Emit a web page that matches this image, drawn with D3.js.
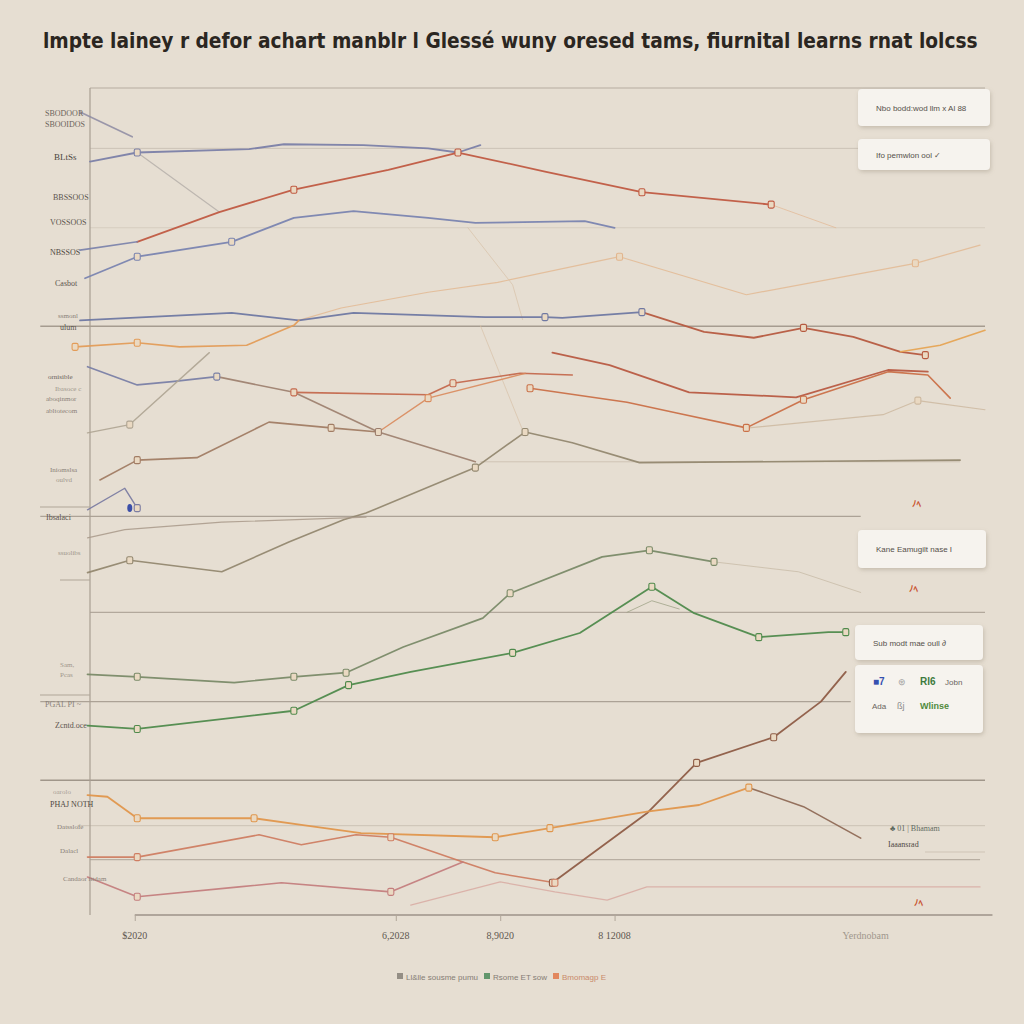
<!DOCTYPE html>
<html><head><meta charset="utf-8">
<script src="https://cdn.jsdelivr.net/npm/d3@7"></script>
<style>
html,body{margin:0;padding:0;background:#e6ded2;}
svg{display:block;}
</style></head>
<body>
<svg id="chart" width="1024" height="1024"></svg>
<script>
// ---------------- DATA (month, value) ----------------
const slateTop   = [[-0.4,97.1],[1.7,94.1]];
const blueTop    = [[0.0,91.1],[1.9,92.2],[6.4,92.6],[7.8,93.2],[11.0,93.1],[13.6,92.7],[14.8,92.2],[15.7,93.1]];
const grayDrop   = [[1.9,92.2],[5.2,85.0]];
const redTop     = [[1.9,81.4],[5.2,85.0],[8.2,87.7],[12.0,90.1],[14.8,92.2],[18.3,89.9],[22.2,87.4],[27.4,85.9]];
const redTopTail = [[27.4,85.9],[30.0,83.1]];
const blueJoin   = [[-0.4,80.4],[1.9,81.4]];
const blueMid    = [[-0.2,77.0],[1.9,79.6],[5.7,81.4],[8.2,84.3],[10.6,85.1],[13.6,84.3],[15.5,83.7],[19.9,83.9],[21.1,83.1]];
const orangeFaint= [[8.4,71.9],[10.1,73.4],[13.6,75.3],[16.4,76.5],[21.3,79.6],[26.4,75.0],[33.2,78.8],[35.8,81.0]];
const blueLow    = [[-0.4,71.9],[5.7,72.8],[8.4,71.9],[10.6,72.8],[15.9,72.3],[18.3,72.3],[19.0,72.2],[22.2,72.9]];
const redRight   = [[22.2,72.9],[24.7,70.5],[26.7,69.8],[28.7,71.0],[30.7,69.9],[32.6,68.1],[33.6,67.7]];
const orangeEnd  = [[32.6,68.1],[34.2,68.9],[36.0,70.7]];
const orangeLeft = [[-0.6,68.7],[1.9,69.2],[3.6,68.7],[6.3,68.9],[8.2,71.3],[8.4,71.9]];
const slateLeft  = [[-0.1,66.3],[1.9,64.1],[3.3,64.5],[5.1,65.1]];
const brownFall  = [[5.1,65.1],[8.2,63.2],[11.6,58.4],[15.5,54.8]];
const redFlat    = [[8.2,63.2],[13.6,62.9],[14.6,64.3],[17.3,65.5],[19.4,65.3]];
const orangeRise = [[11.6,58.4],[13.6,62.5],[17.5,65.5]];
const grayRise   = [[-0.1,58.3],[1.6,59.3],[4.8,68.0]];
const brownLow   = [[0.4,52.6],[1.9,55.0],[4.3,55.3],[7.2,59.6],[9.7,58.9],[11.6,58.4]];
const oliveLong  = [[-0.1,41.4],[1.6,42.9],[5.3,41.5],[8.0,45.1],[10.2,47.8],[11.1,48.6],[15.5,54.1],[17.5,58.4],[19.4,57.1],[22.1,54.7],[35.0,55.0]];
const orangeMid  = [[17.7,63.7],[21.6,62.0],[23.6,60.7],[26.4,58.9],[28.7,62.3],[32.1,65.7],[33.7,65.3],[34.6,62.5]];
const redMid     = [[18.6,68.0],[20.9,66.5],[24.1,63.2],[28.4,62.6],[32.1,65.9],[33.7,65.7]];
const grayRight  = [[26.5,58.9],[31.9,60.5],[33.3,62.2],[36.0,61.1]];
const slateSmall = [[-0.1,49.0],[1.4,51.6],[1.9,49.2]];
const grayBase   = [[-0.1,45.6],[1.4,46.6],[5.3,47.5],[11.1,48.1]];
const greenUpper = [[-0.1,29.1],[1.9,28.8],[5.8,28.1],[8.2,28.8],[10.3,29.3],[12.6,32.4],[15.8,35.9],[16.9,38.9],[20.6,43.3],[22.5,44.1],[25.1,42.7]];
const greenUpperTail = [[25.1,42.7],[28.5,41.5],[31.0,39.0]];
const greenLower = [[-0.1,22.9],[1.9,22.5],[8.2,24.7],[10.4,27.8],[12.9,29.4],[17.0,31.7],[19.7,34.1],[22.6,39.7],[24.3,36.5],[26.9,33.6],[29.7,34.2],[30.4,34.2]];
const greenPeak  = [[21.6,36.6],[22.6,38.0],[23.7,37.0]];
const brownRise  = [[18.6,3.9],[22.4,12.3],[24.4,18.4],[27.5,21.5],[29.4,25.8],[30.4,29.4]];
const orangeBottom = [[-0.1,14.5],[0.7,14.3],[1.9,11.7],[6.6,11.7],[8.5,10.9],[10.9,9.9],[16.3,9.4],[18.5,10.5],[22.4,12.5],[24.5,13.3],[26.5,15.4]];
const brownBottomTail = [[26.5,15.4],[28.7,13.1],[31.0,9.3]];
const coralBottom= [[-0.1,7.0],[1.9,7.0],[6.8,9.7],[8.5,8.5],[10.7,9.7],[12.1,9.4],[15.0,6.4],[16.3,5.1],[18.7,3.9]];
const pinkBottom = [[-0.1,4.6],[1.9,2.2],[6.0,3.4],[7.7,3.9],[12.1,2.8],[15.0,6.4]];
const pinkFaint  = [[12.9,1.2],[16.5,4.0],[18.7,2.8],[20.8,1.8],[22.4,3.4],[35.8,3.4]];
const faintDiag1 = [[15.2,83.1],[17.0,76.2],[17.4,72.0]];
const faintDiag2 = [[15.7,71.3],[17.5,57.9]];

const titleText = "lmpte lainey  r defor achart manblr l Glessé wuny oresed tams, fiurnital learns rnat  lolcss";
const xTickLabels = ["$2020","6,2028","8,9020","8 12008","Yerdnobam"];
const xTickMonths = [1.8, 12.3, 16.5, 21.1, 31.2];
const legendLabels = ["Ll&lle sousme pumu","Rsome ET sow","Bmomagp E"];
const gridLevels = [100, 92.7, 83.1, 71.2, 54.8, 48.2, 36.6, 25.8, 16.3, 10.8, 6.7];

// ---------------- STYLES ----------------
const seriesStyles = [
  {d: slateTop,   c:"#8c8aa2", w:1.6, o:0.85, m:[]},
  {d: grayDrop,   c:"#b3aca8", w:1.2, o:0.8,  m:[]},
  {d: blueTop,    c:"#7b80a8", w:1.8, o:0.95, m:[1]},
  {d: redTopTail, c:"#e3b792", w:1.0, o:0.7,  m:[]},
  {d: redTop,     c:"#c05a42", w:1.8, o:0.95, m:[2,4,6,7]},
  {d: blueJoin,   c:"#7880aa", w:1.6, o:0.9,  m:[]},
  {d: blueMid,    c:"#7a84b0", w:1.8, o:0.95, m:[1,2]},
  {d: orangeFaint,c:"#e2b68e", w:1.2, o:0.8,  m:[4,6]},
  {d: faintDiag1, c:"#d8c2a8", w:0.9, o:0.8,  m:[]},
  {d: faintDiag2, c:"#d8c2a8", w:0.9, o:0.8,  m:[]},
  {d: blueLow,    c:"#6f78a2", w:1.8, o:0.95, m:[5,7]},
  {d: redRight,   c:"#b65a40", w:1.8, o:0.95, m:[3,6]},
  {d: orangeEnd,  c:"#e6a454", w:1.6, o:0.95, m:[]},
  {d: orangeLeft, c:"#e39c58", w:1.6, o:0.95, m:[0,1]},
  {d: slateLeft,  c:"#7a80a6", w:1.6, o:0.95, m:[3]},
  {d: brownFall,  c:"#9b7d6c", w:1.6, o:0.9,  m:[2]},
  {d: redFlat,    c:"#c4694e", w:1.6, o:0.95, m:[0,2]},
  {d: orangeRise, c:"#d98a5c", w:1.4, o:0.9,  m:[1]},
  {d: grayRise,   c:"#aea492", w:1.4, o:0.9,  m:[1]},
  {d: brownLow,   c:"#a17c64", w:1.6, o:0.95, m:[1,4]},
  {d: oliveLong,  c:"#938870", w:1.6, o:0.95, m:[1,6,7]},
  {d: orangeMid,  c:"#ca7048", w:1.6, o:0.95, m:[0,3,4]},
  {d: redMid,     c:"#b85a42", w:1.8, o:0.95, m:[]},
  {d: grayRight,  c:"#cdb9a0", w:1.1, o:0.85, m:[2]},
  {d: slateSmall, c:"#7b7ca2", w:1.4, o:0.95, m:[2]},
  {d: grayBase,   c:"#a8998a", w:1.2, o:0.85, m:[]},
  {d: greenUpperTail, c:"#c8bca8", w:1.0, o:0.8, m:[]},
  {d: greenUpper, c:"#7a8a68", w:1.7, o:0.95, m:[1,3,4,7,9,10]},
  {d: greenPeak,  c:"#a0a488", w:1.0, o:0.8,  m:[]},
  {d: greenLower, c:"#4f8a4c", w:1.8, o:0.95, m:[1,2,3,5,7,9,11]},
  {d: brownRise,  c:"#8e5c46", w:1.8, o:0.95, m:[0,2,3]},
  {d: orangeBottom,c:"#e0964c", w:1.8, o:0.95, m:[2,3,6,7,10]},
  {d: brownBottomTail,c:"#8f6a56", w:1.6, o:0.95, m:[]},
  {d: coralBottom,c:"#cf7d62", w:1.6, o:0.95, m:[1,5,8]},
  {d: pinkBottom, c:"#c47e7e", w:1.6, o:0.95, m:[1,4]},
  {d: pinkFaint,  c:"#d8aaa2", w:1.2, o:0.85, m:[]}
];

const gridStyles = [
  {from:0, to:36, c:"#b5aba0", w:1.2},
  {from:0, to:36, c:"#cbc2b6", w:1},
  {from:0, to:36, c:"#d6cdbf", w:1},
  {from:-2, to:36, c:"#a69c90", w:1.4},
  {from:15.7, to:35, c:"#cfc4b4", w:1},
  {from:-2, to:31, c:"#aca296", w:1.3},
  {from:0, to:36, c:"#b2a89c", w:1.2},
  {from:-2, to:30.6, c:"#aca296", w:1.3},
  {from:-2, to:36, c:"#a0968a", w:1.5},
  {from:-0.5, to:36, c:"#cbc2b6", w:1},
  {from:0, to:35.8, c:"#b8aea2", w:1.2}
];

// ---------------- SCALES ----------------
const svg = d3.select("#chart");
const x = d3.scaleLinear().domain([0,36]).range([90,985]);
const y = d3.scaleLinear().domain([0,100]).range([915,88]);

svg.append("rect").attr("width",1024).attr("height",1024).attr("fill","#e6ded2");

// title: size chosen so that it naturally spans the reference width
const title = svg.append("text").text(titleText)
  .attr("x",43).attr("y",48)
  .attr("font-family","'Liberation Sans Narrow','DejaVu Sans Condensed',sans-serif")
  .attr("font-weight","bold").attr("font-size",25).attr("fill","#2b2621");
const tw = title.node().getComputedTextLength();
title.attr("font-size", Math.min(26, 25 * 935 / tw));

// grid
const gg = svg.append("g");
gridLevels.forEach((v,i)=>{
  const s = gridStyles[i];
  gg.append("line").attr("x1",x(s.from)).attr("x2",x(s.to))
    .attr("y1",y(v)).attr("y2",y(v)).attr("stroke",s.c).attr("stroke-width",s.w);
});
// left axis
gg.append("line").attr("x1",x(0)).attr("x2",x(0)).attr("y1",y(0)).attr("y2",y(100))
  .attr("stroke","#a89e92").attr("stroke-width",1.2);
// bottom axis
const xAxis = d3.axisBottom(x).tickValues(xTickMonths.slice(0,4)).tickSize(6).tickFormat("");
const ax = svg.append("g").attr("transform",`translate(0,${y(0)})`).call(xAxis);
ax.select(".domain").attr("stroke","#9c9288").attr("stroke-width",1.5).attr("d",`M${x(1.8)},0H${x(36.3)}`);
ax.selectAll(".tick line").attr("stroke","#b0a69a");
xTickLabels.forEach((t,i)=>{
  svg.append("text").text(t).attr("x",x(xTickMonths[i])).attr("y",939)
    .attr("text-anchor","middle")
    .attr("font-family","'Liberation Serif',serif").attr("font-size",10)
    .attr("fill", i===4 ? "#a0978c" : "#5e5750");
});

// lines
const line = d3.line().x(d=>x(d[0])).y(d=>y(d[1])).curve(d3.curveLinear);
const lg = svg.append("g");
seriesStyles.forEach(s=>{
  lg.append("path").datum(s.d).attr("d",line).attr("fill","none")
    .attr("stroke",s.c).attr("stroke-width",s.w).attr("stroke-opacity",s.o)
    .attr("stroke-linejoin","round").attr("stroke-linecap","round");
});
seriesStyles.forEach(s=>{
  s.m.forEach(k=>{
    const p = s.d[k];
    lg.append("rect").attr("x",x(p[0])-3).attr("y",y(p[1])-3.5)
      .attr("width",6).attr("height",7).attr("rx",1.5)
      .attr("fill","#ead9c2").attr("stroke",s.c).attr("stroke-width",1.1);
  });
});
// blue dot near left
lg.append("ellipse").attr("cx",x(1.6)).attr("cy",y(49.2)).attr("rx",2.5).attr("ry",4).attr("fill","#3c4fa8");

// left side labels
const leftLabels = [
  ["SBODOOR",45,116,8,"#6c645c"],["SBOOIDOS",45,127,8,"#6c645c"],
  ["BLtSs",54,160,9,"#4a443e"],["BBSSOOS",53,200,8,"#5c554e"],
  ["VOSSOOS",50,225,8,"#5c554e"],["NBSSOS",50,255,8,"#4f4943"],
  ["Casbot",55,286,8,"#5c554e"],["ssmonl",58,318,7,"#8a8178"],["ulum",60,330,8,"#5c554e"],
  ["ornisible",48,379,7,"#6a625a"],["Ibasoce c",55,391,7,"#a0978c"],["aboqinmor",46,401,7,"#8a8178"],
  ["abltotecom",46,413,7,"#8a8178"],["Iniomslsa",50,472,7,"#8a8178"],["oulvd",56,482,7,"#a0978c"],
  ["Ibsalaci",46,520,8,"#5c554e"],["ssuolibs",58,555,7,"#a0978c"],
  ["Sam,",60,667,7,"#a0978c"],["Pcas",60,677,7,"#a0978c"],
  ["PGAL PI ~",45,707,8,"#8a8178"],["Zcntd.oce",55,728,8,"#5c554e"],
  ["oarolo",53,794,7,"#a8a096"],["PHAJ NOTH",50,807,8,"#4f4943"],
  ["Datsslofe",57,829,7,"#8a8178"],["Dalacl",60,853,7,"#8a8178"],["Candaor ittdam",63,881,7,"#8a8178"]
];
leftLabels.forEach(l=>{
  svg.append("text").text(l[0]).attr("x",l[1]).attr("y",l[2])
    .attr("font-family","'Liberation Serif',serif").attr("font-size",l[3]).attr("fill",l[4]);
});
// short tick strokes near left labels
[[40,507,90,507],[40,695,90,695],[60,580,90,580]].forEach(a=>{
  svg.append("line").attr("x1",a[0]).attr("y1",a[1]).attr("x2",a[2]).attr("y2",a[3])
    .attr("stroke","#b0a698").attr("stroke-width",1);
});

// right info boxes
const defs = svg.append("defs");
const f = defs.append("filter").attr("id","sh").attr("x","-10%").attr("y","-20%").attr("width","130%").attr("height","160%");
f.append("feDropShadow").attr("dx",1).attr("dy",2).attr("stdDeviation",2).attr("flood-color","#8c8070").attr("flood-opacity",0.35);
const boxes = [
  {x:858,y:89,w:132,h:37,t:["Nbo bodd:wod llm x Al 88"]},
  {x:858,y:139,w:132,h:31,t:["Ifo pemwlon ool   ✓"]},
  {x:858,y:530,w:128,h:38,t:["Kane Eamugilt nase    I"]},
  {x:855,y:625,w:128,h:35,t:["Sub modt mae oull   ∂"]},
  {x:855,y:665,w:128,h:68,t:[]}
];
boxes.forEach(b=>{
  svg.append("rect").attr("x",b.x).attr("y",b.y).attr("width",b.w).attr("height",b.h).attr("rx",4)
    .attr("fill","#f6f3ee").attr("filter","url(#sh)");
  b.t.forEach((t,i)=>{
    svg.append("text").text(t).attr("x",b.x+18).attr("y",b.y+b.h/2+3)
      .attr("font-family","'Liberation Sans Narrow',sans-serif").attr("font-size",8).attr("fill","#55504a");
  });
});
const legendRows = [
  [["■7",873,"#3550b0",10,"bold"],["⊛",898,"#a0a0a0",9,"normal"],["Rl6",920,"#3d7a3d",10,"bold"],["Jobn",945,"#6a645e",8,"normal"]],
  [["Ada",872,"#6a645e",8,"normal"],["ßj",897,"#8a8a8a",9,"normal"],["Wlinse",920,"#4f8a3d",9,"bold"]]
];
legendRows.forEach((row,ri)=>{
  row.forEach(it=>{
    svg.append("text").text(it[0]).attr("x",it[1]).attr("y",685+ri*24)
      .attr("font-family","'Liberation Sans Narrow',sans-serif").attr("font-size",it[3])
      .attr("font-weight",it[4]).attr("fill",it[2]);
  });
});

// small red glyphs
[[912,507],[909,592],[914,906]].forEach(p=>{
  svg.append("text").text("ﾉﾍ").attr("x",p[0]).attr("y",p[1])
    .attr("font-family","'Noto Sans CJK JP',sans-serif").attr("font-size",9).attr("font-weight","bold")
    .attr("fill","#c8502a");
});
// right bottom labels
svg.append("text").text("♣ 01  |  Bhamam").attr("x",890).attr("y",831)
  .attr("font-family","'Liberation Serif',serif").attr("font-size",8).attr("fill","#5e6a60");
svg.append("text").text("Iaaansrad").attr("x",888).attr("y",847)
  .attr("font-family","'Liberation Serif',serif").attr("font-size",8).attr("fill","#4f4943");
svg.append("line").attr("x1",925).attr("x2",985).attr("y1",852).attr("y2",852).attr("stroke","#cfc4b6");

// bottom legend
const legColors = ["#858078","#4a8a5a","#e0784a"];
const legX = [397, 484, 553];
legendLabels.forEach((t,i)=>{
  svg.append("rect").attr("x",legX[i]).attr("y",973).attr("width",6).attr("height",6).attr("fill",legColors[i]).attr("opacity",0.85);
  svg.append("text").text(t).attr("x",legX[i]+9).attr("y",980)
    .attr("font-family","'Liberation Sans Narrow',sans-serif").attr("font-size",8)
    .attr("fill", i===2 ? "#c98a6a" : "#857d74");
});
</script>
</body></html>
